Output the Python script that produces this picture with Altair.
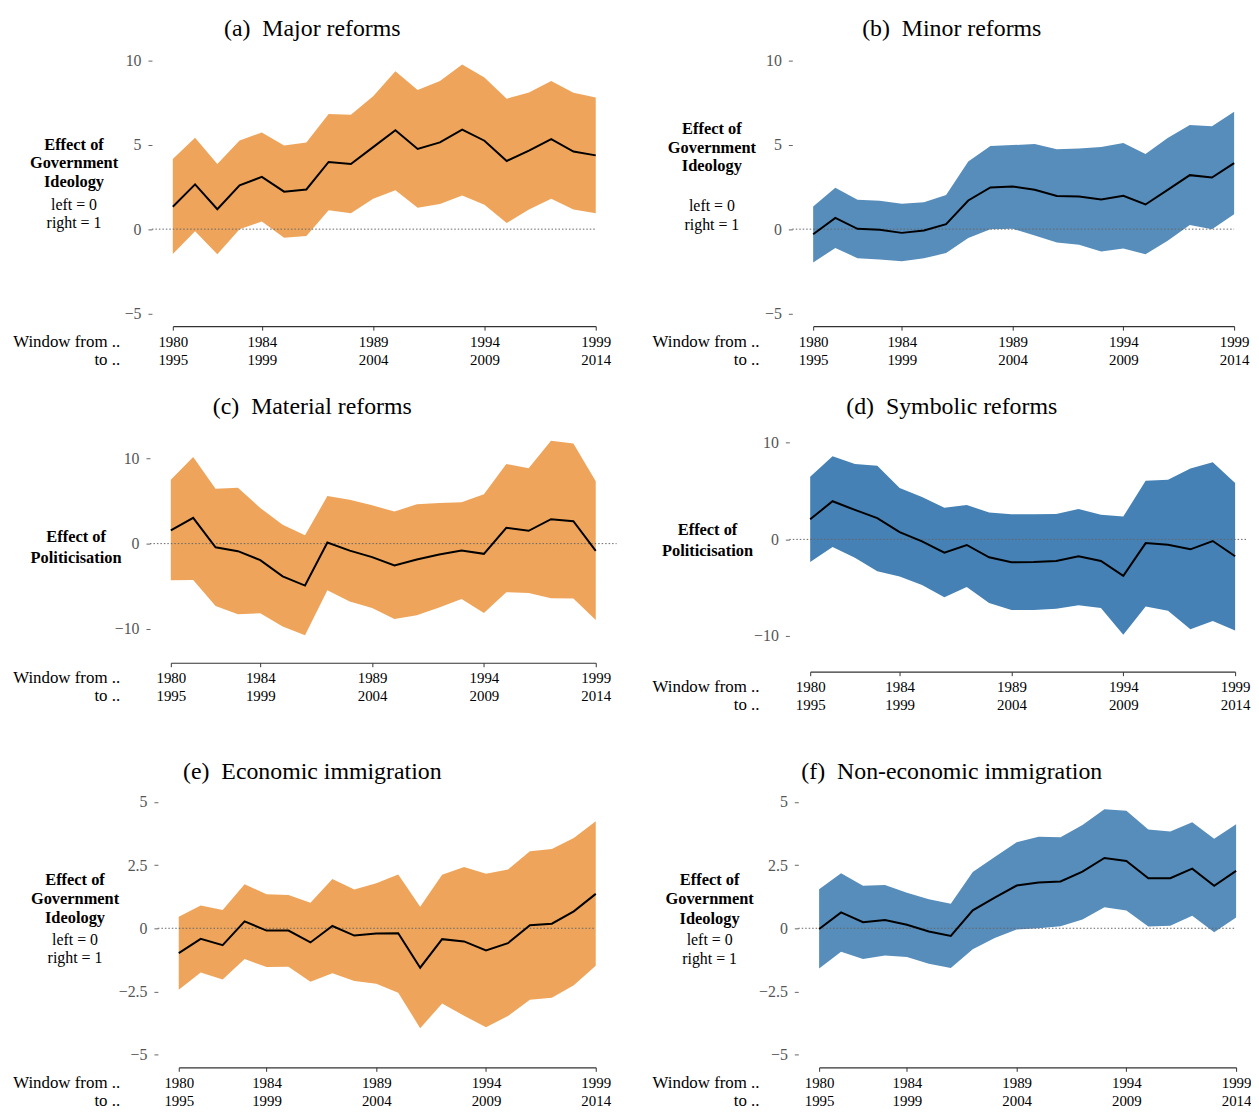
import altair as alt
import pandas as pd

# ---------------- data ----------------
window_from = [1980, 1981, 1982, 1983, 1984, 1985, 1986, 1987, 1988, 1989,
               1990, 1991, 1992, 1993, 1994, 1995, 1996, 1997, 1998, 1999]
tick_from = [1980, 1984, 1989, 1994, 1999]
tick_to = [1995, 1999, 2004, 2009, 2014]

a_est = [1.33, 2.65, 1.18, 2.59, 3.10, 2.22, 2.35, 3.98, 3.86, 4.86, 5.86, 4.75, 5.14, 5.90, 5.24, 4.04, 4.65, 5.33, 4.60, 4.37]
a_hi = [4.16, 5.41, 3.86, 5.25, 5.73, 4.96, 5.14, 6.82, 6.78, 7.88, 9.35, 8.24, 8.78, 9.75, 8.98, 7.73, 8.10, 8.78, 8.08, 7.80]
a_lo = [-1.47, -0.12, -1.49, 0.00, 0.45, -0.51, -0.41, 1.12, 0.94, 1.80, 2.31, 1.27, 1.49, 2.00, 1.45, 0.37, 1.16, 1.80, 1.16, 0.94]

b_est = [-0.30, 0.67, 0.02, -0.04, -0.22, -0.08, 0.30, 1.70, 2.47, 2.53, 2.33, 1.96, 1.94, 1.76, 1.98, 1.46, 2.33, 3.20, 3.06, 3.91]
b_hi = [1.34, 2.45, 1.74, 1.68, 1.50, 1.60, 2.02, 4.01, 4.92, 4.98, 5.04, 4.74, 4.78, 4.86, 5.10, 4.45, 5.40, 6.17, 6.09, 6.96]
b_lo = [-1.98, -1.11, -1.72, -1.80, -1.90, -1.72, -1.42, -0.53, 0.00, 0.02, -0.38, -0.79, -0.93, -1.32, -1.15, -1.48, -0.69, 0.24, 0.00, 0.89]

c_est = [1.55, 3.03, -0.43, -0.89, -1.94, -3.84, -4.93, 0.12, -0.82, -1.59, -2.56, -1.86, -1.28, -0.82, -1.20, 1.86, 1.51, 2.87, 2.64, -0.85]
c_hi = [7.50, 10.17, 6.45, 6.56, 4.19, 2.21, 0.97, 5.59, 5.17, 4.50, 3.77, 4.62, 4.78, 4.85, 5.79, 9.36, 8.85, 12.08, 11.77, 7.34]
c_lo = [-4.31, -4.27, -7.34, -8.31, -8.19, -9.75, -10.76, -5.48, -6.80, -7.57, -8.85, -8.43, -7.50, -6.52, -8.16, -5.71, -5.79, -6.41, -6.45, -8.97]

d_est = [2.09, 3.95, 3.05, 2.20, 0.75, -0.21, -1.37, -0.58, -1.85, -2.37, -2.33, -2.23, -1.75, -2.23, -3.77, -0.38, -0.55, -1.03, -0.17, -1.75]
d_hi = [6.48, 8.61, 7.82, 7.62, 5.32, 4.39, 3.29, 3.57, 2.78, 2.61, 2.61, 2.64, 3.16, 2.54, 2.37, 6.07, 6.17, 7.34, 7.99, 5.83]
d_lo = [-2.33, -0.79, -1.89, -3.29, -3.84, -4.73, -6.00, -4.94, -6.59, -7.31, -7.31, -7.17, -6.83, -7.10, -9.88, -6.96, -7.38, -9.30, -8.44, -9.43]

e_est = [-0.98, -0.42, -0.67, 0.27, -0.09, -0.09, -0.56, 0.09, -0.29, -0.21, -0.20, -1.56, -0.43, -0.52, -0.88, -0.59, 0.12, 0.18, 0.67, 1.36]
e_hi = [0.46, 0.90, 0.72, 1.74, 1.35, 1.32, 1.01, 1.95, 1.53, 1.78, 2.13, 0.85, 2.12, 2.42, 2.16, 2.32, 3.05, 3.14, 3.57, 4.23]
e_lo = [-2.43, -1.75, -2.03, -1.22, -1.53, -1.52, -2.12, -1.78, -2.09, -2.19, -2.55, -3.95, -2.98, -3.46, -3.91, -3.47, -2.83, -2.75, -2.25, -1.48]

f_est = [-0.03, 0.63, 0.24, 0.33, 0.14, -0.13, -0.30, 0.71, 1.21, 1.69, 1.81, 1.85, 2.24, 2.78, 2.66, 1.98, 1.98, 2.36, 1.68, 2.27]
f_hi = [1.54, 2.18, 1.68, 1.71, 1.40, 1.15, 0.97, 2.23, 2.82, 3.40, 3.62, 3.60, 4.08, 4.71, 4.65, 3.91, 3.83, 4.19, 3.54, 4.11]
f_lo = [-1.59, -0.93, -1.22, -1.08, -1.14, -1.40, -1.57, -0.83, -0.38, -0.05, 0.00, 0.08, 0.35, 0.83, 0.70, 0.07, 0.10, 0.50, -0.16, 0.43]

titles = ["(a)\u00a0\u00a0Major reforms", "(b)\u00a0\u00a0Minor reforms",
          "(c)\u00a0\u00a0Material reforms", "(d)\u00a0\u00a0Symbolic reforms",
          "(e)\u00a0\u00a0Economic immigration", "(f)\u00a0\u00a0Non-economic immigration"]
ideology_label = ["Effect of", "Government", "Ideology"]
ideology_sub = ["left = 0", "right = 1"]
politic_label = ["Effect of", "Politicisation"]

# ---------------- style ----------------
FONT = "Liberation Serif"
ORANGE = "#EEA55B"
BLUE = "#578DBB"
BLUE_D = "#4581B5"

label_expr = " : ".join(
    f"datum.value == {a} ? ['{a}', '{b}']" for a, b in zip(tick_from, tick_to)
) + " : ''"


def anno(text, x, y, size=16, weight="normal", align="center", color="#000",
         baseline="middle", opacity=1.0):
    return alt.Chart(alt.Data(values=[{"k": 1}])).mark_text(
        text=text, font=FONT, fontSize=size, fontWeight=weight, align=align,
        baseline=baseline, color=color, opacity=opacity
    ).encode(x=alt.value(x), y=alt.value(y))


def panel(est, lo, hi, color, ydom, height, width, xrange, yoff, yticks,
          zero_end, title, title_xy, bold_lines, bold_x, bold_ys,
          sub_ys=None, win_x=-51, anchor=False):
    df = pd.DataFrame({"w": window_from, "est": est, "lo": lo, "hi": hi})
    xenc = alt.X(
        "w:Q",
        scale=alt.Scale(domain=[1980, 1999], range=xrange, nice=False, zero=False),
        axis=alt.Axis(values=tick_from, labelExpr=label_expr, title="", grid=False,
                      domainColor="#333333", domainWidth=1.2, tickColor="#333333",
                      tickSize=4, tickWidth=1, labelFont=FONT, labelFontSize=15,
                      labelColor="#000000", labelPadding=4, labelLineHeight=18.5,
                      labelFlush=False, labelOverlap=False, labelBaseline="top"),
    )
    yscale = alt.Scale(domain=ydom, nice=False, zero=False)
    yaxis = alt.Axis(values=yticks, format=".3~r", title="", grid=False, domain=False,
                     offset=yoff, tickColor="#666666", tickSize=4, tickWidth=1,
                     labelColor="#555555", labelFont=FONT, labelFontSize=16,
                     labelPadding=7)
    base = alt.Chart(df)
    area = base.mark_area(color=color, opacity=1).encode(
        x=xenc, y=alt.Y("lo:Q", scale=yscale, axis=yaxis), y2="hi:Q")
    zero = alt.Chart(alt.Data(values=[{"k": 1}])).mark_rule(
        color="#666666", strokeDash=[1.5, 2], strokeWidth=1
    ).encode(x=alt.value(-yoff), x2=alt.value(zero_end), y=alt.datum(0))
    line = base.mark_line(color="black", strokeWidth=2).encode(
        x=xenc, y=alt.Y("est:Q", scale=yscale, axis=yaxis))
    layers = [area, zero, line]
    layers.append(anno(title, title_xy[0], title_xy[1], size=24))
    for t, yy in zip(bold_lines, bold_ys):
        layers.append(anno(t, bold_x, yy, size=16.5, weight="bold"))
    if sub_ys:
        for t, yy in zip(ideology_sub, sub_ys):
            layers.append(anno(t, bold_x, yy, size=16))
    layers.append(anno("Window from ..", win_x, height + 15.5, size=17, align="right"))
    layers.append(anno("to ..", win_x, height + 34, size=17, align="right"))
    if anchor:
        layers.append(alt.Chart(alt.Data(values=[{"k": 1}])).mark_rule(
            color="white", strokeOpacity=0).encode(
            x=alt.value(-164), y=alt.value(-36), y2=alt.value(-35)))
    return alt.layer(*layers).properties(width=width, height=height)


pa = panel(a_est, a_lo, a_hi, ORANGE, [-5.75, 10.75], 280.5, 428, [2, 428], 19,
           [-5, 0, 5, 10], 428, titles[0], (142.5, -19), ideology_label, -97.5,
           [98, 116, 135], sub_ys=[158, 177], anchor=True)
pb = panel(b_est, b_lo, b_hi, BLUE, [-5.75, 10.75], 280.5, 430, [4, 428], 17,
           [-5, 0, 5, 10], 428, titles[1], (143.6, -19), ideology_label, -98,
           [82, 101, 119.3], sub_ys=[159.3, 178.7], win_x=-50)
pc = panel(c_est, c_lo, c_hi, ORANGE, [-14, 14], 240, 428, [0, 428], 21,
           [-10, 0, 10], 449, titles[2], (142.5, -18), politic_label, -95.4,
           [113, 134.3])
pd_ = panel(d_est, d_lo, d_hi, BLUE_D, [-13.7, 11.9], 249, 430, [1, 429], 20,
            [-10, 0, 10], 440, titles[3], (143.6, -18), politic_label, -102.4,
            [106.7, 127.7], win_x=-50)
pe = panel(e_est, e_lo, e_hi, ORANGE, [-5.5, 6.28], 300, 428, [8, 428], 13,
           [-5, -2.5, 0, 2.5, 5], 428, titles[4], (142.5, 2.2), ideology_label, -96.5,
           [111.5, 130.5, 149.2], sub_ys=[171.5, 190.2])
pf = panel(f_est, f_lo, f_hi, BLUE, [-5.5, 6.28], 300, 430, [10, 430], 11,
           [-5, -2.5, 0, 2.5, 5], 430, titles[5], (143.6, 2.2), ideology_label, -100.3,
           [111.5, 130.5, 150.2], sub_ys=[171.8, 190.5], win_x=-50)

chart = alt.concat(
    pa, pb, pc, pd_, pe, pf, columns=2,
    spacing={"row": 98.5, "column": 215}, bounds="flush", align="each"
).properties(padding=0).configure_view(strokeWidth=0)

chart.save("out.html", embed_options={"renderer": "svg", "actions": False})
